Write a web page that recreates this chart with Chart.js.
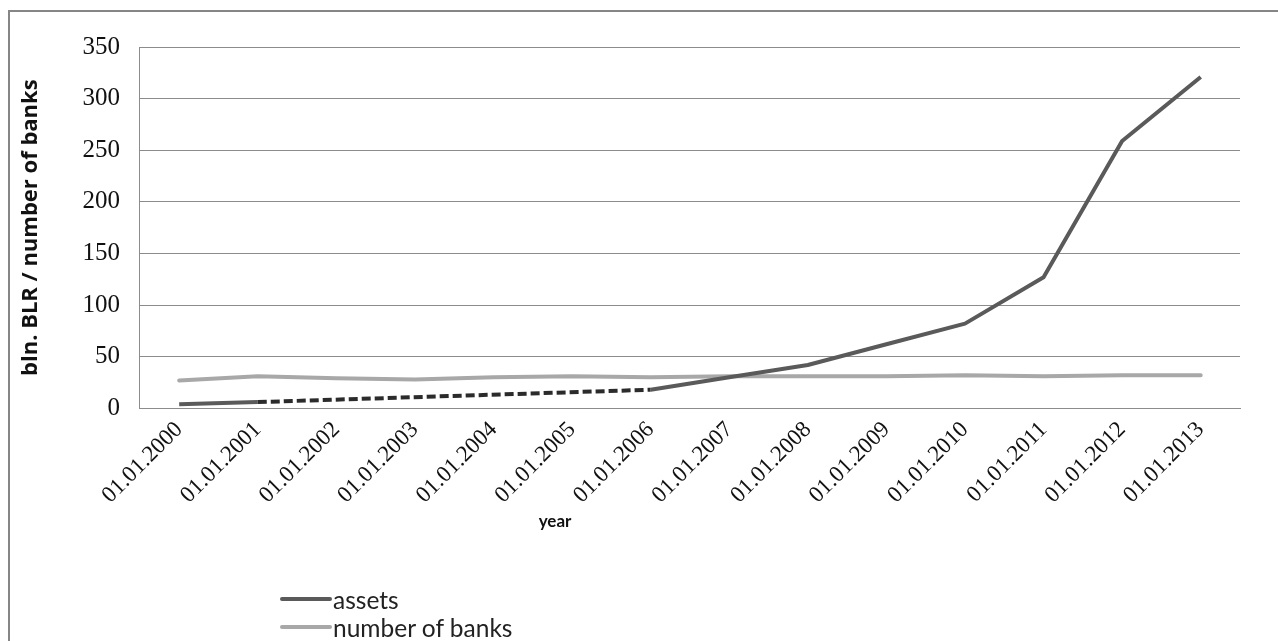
<!DOCTYPE html>
<html lang="en">
  <head>
    <meta charset="UTF-8" />
    <title>Assets and number of banks</title>
    <script src="https://cdn.jsdelivr.net/npm/chart.js"></script>
    <style>
      body { margin: 0; background: #fff; }
      #wrap { position: relative; width: 1278px; height: 641px; }
      #frame {
        position: absolute; left: 8px; top: 10px; right: 0; bottom: 0;
        border-left: 2px solid #868686; border-top: 2px solid #868686;
      }
      #legend {
        position: absolute; left: 280px; top: 585px;
        font-family: Lato, "Open Sans", sans-serif; font-size: 24.5px; color: #222;
      }
      .item { display: flex; align-items: center; height: 28px; }
      .swatch { width: 52px; height: 4px; border-radius: 2px; margin-right: 1px; }
    </style>
  </head>
  <body>
    <div id="wrap">
      <div id="frame"></div>
      <canvas id="chart" width="1278" height="641"></canvas>
      <div id="legend"></div>
    </div>

    <script>
      // data
      const years = ["01.01.2000", "01.01.2001", "01.01.2002", "01.01.2003", "01.01.2004",
        "01.01.2005", "01.01.2006", "01.01.2007", "01.01.2008", "01.01.2009",
        "01.01.2010", "01.01.2011", "01.01.2012", "01.01.2013"];
      // 2002-2005 missing, bridged with a dashed line
      const assets = [4, 6, null, null, null, null, 18, 30, 42, 62, 82, 127, 259, 321];
      const banks = [27, 31, 29, 28, 30, 31, 30, 31, 31, 31, 32, 31, 32, 32];

      const seriesNames = ["assets", "number of banks"];
      const seriesColors = ["#5a5a5a", "#a8a8a8"];

      // draw the "year" axis title where the original had it
      const yearTitle = {
        id: "yearTitle",
        afterDraw(chart) {
          const c = chart.ctx;
          c.save();
          c.font = "bold 17px Lato, 'Open Sans', sans-serif";
          c.fillStyle = "#111";
          c.textAlign = "center";
          c.textBaseline = "middle";
          c.fillText("year", 555, 522);
          c.restore();
        },
      };

      const skipped = (ctx, value) => (ctx.p0.skip || ctx.p1.skip ? value : undefined);

      new Chart(document.getElementById("chart"), {
        type: "line",
        data: {
          labels: years,
          datasets: [
            {
              label: seriesNames[0],
              data: assets,
              borderColor: seriesColors[0],
              borderWidth: 4,
              pointRadius: 0,
              spanGaps: true,
              borderJoinStyle: "round",
              segment: {
                borderDash: (ctx) => skipped(ctx, [9, 4]),
                borderColor: (ctx) => skipped(ctx, "#2b2b2b"),
              },
            },
            {
              label: seriesNames[1],
              data: banks,
              borderColor: seriesColors[1],
              borderWidth: 4,
              pointRadius: 0,
              borderCapStyle: "round",
            },
          ],
        },
        options: {
          responsive: false,
          animation: false,
          layout: { padding: { left: 18, right: 38, top: 47, bottom: 124 } },
          plugins: { legend: { display: false }, tooltip: { enabled: false } },
          scales: {
            x: {
              offset: true,
              grid: { display: false, drawTicks: false },
              border: { color: "#8c8c8c", width: 1 },
              ticks: {
                autoSkip: false,
                minRotation: 45,
                maxRotation: 45,
                padding: 8,
                color: "#111",
                font: { family: "'Liberation Serif', serif", size: 23 },
              },
            },
            y: {
              min: 0,
              max: 350,
              grid: { color: "#8c8c8c", drawTicks: false },
              border: { color: "#8c8c8c", width: 1 },
              ticks: {
                stepSize: 50,
                padding: 20,
                color: "#111",
                font: { family: "'Liberation Serif', serif", size: 25 },
              },
              title: {
                display: true,
                text: "bln. BLR / number of banks",
                color: "#111",
                padding: { top: 0, bottom: 18 },
                font: { family: "'Open Sans', sans-serif", size: 22, weight: "bold" },
              },
            },
          },
        },
        plugins: [yearTitle],
      });

      // legend stacked vertically like in the original
      document.getElementById("legend").innerHTML = seriesNames
        .map((name, i) => `<div class="item"><span class="swatch" style="background:${seriesColors[i]}"></span>${name}</div>`)
        .join("");
    </script>
  </body>
</html>
